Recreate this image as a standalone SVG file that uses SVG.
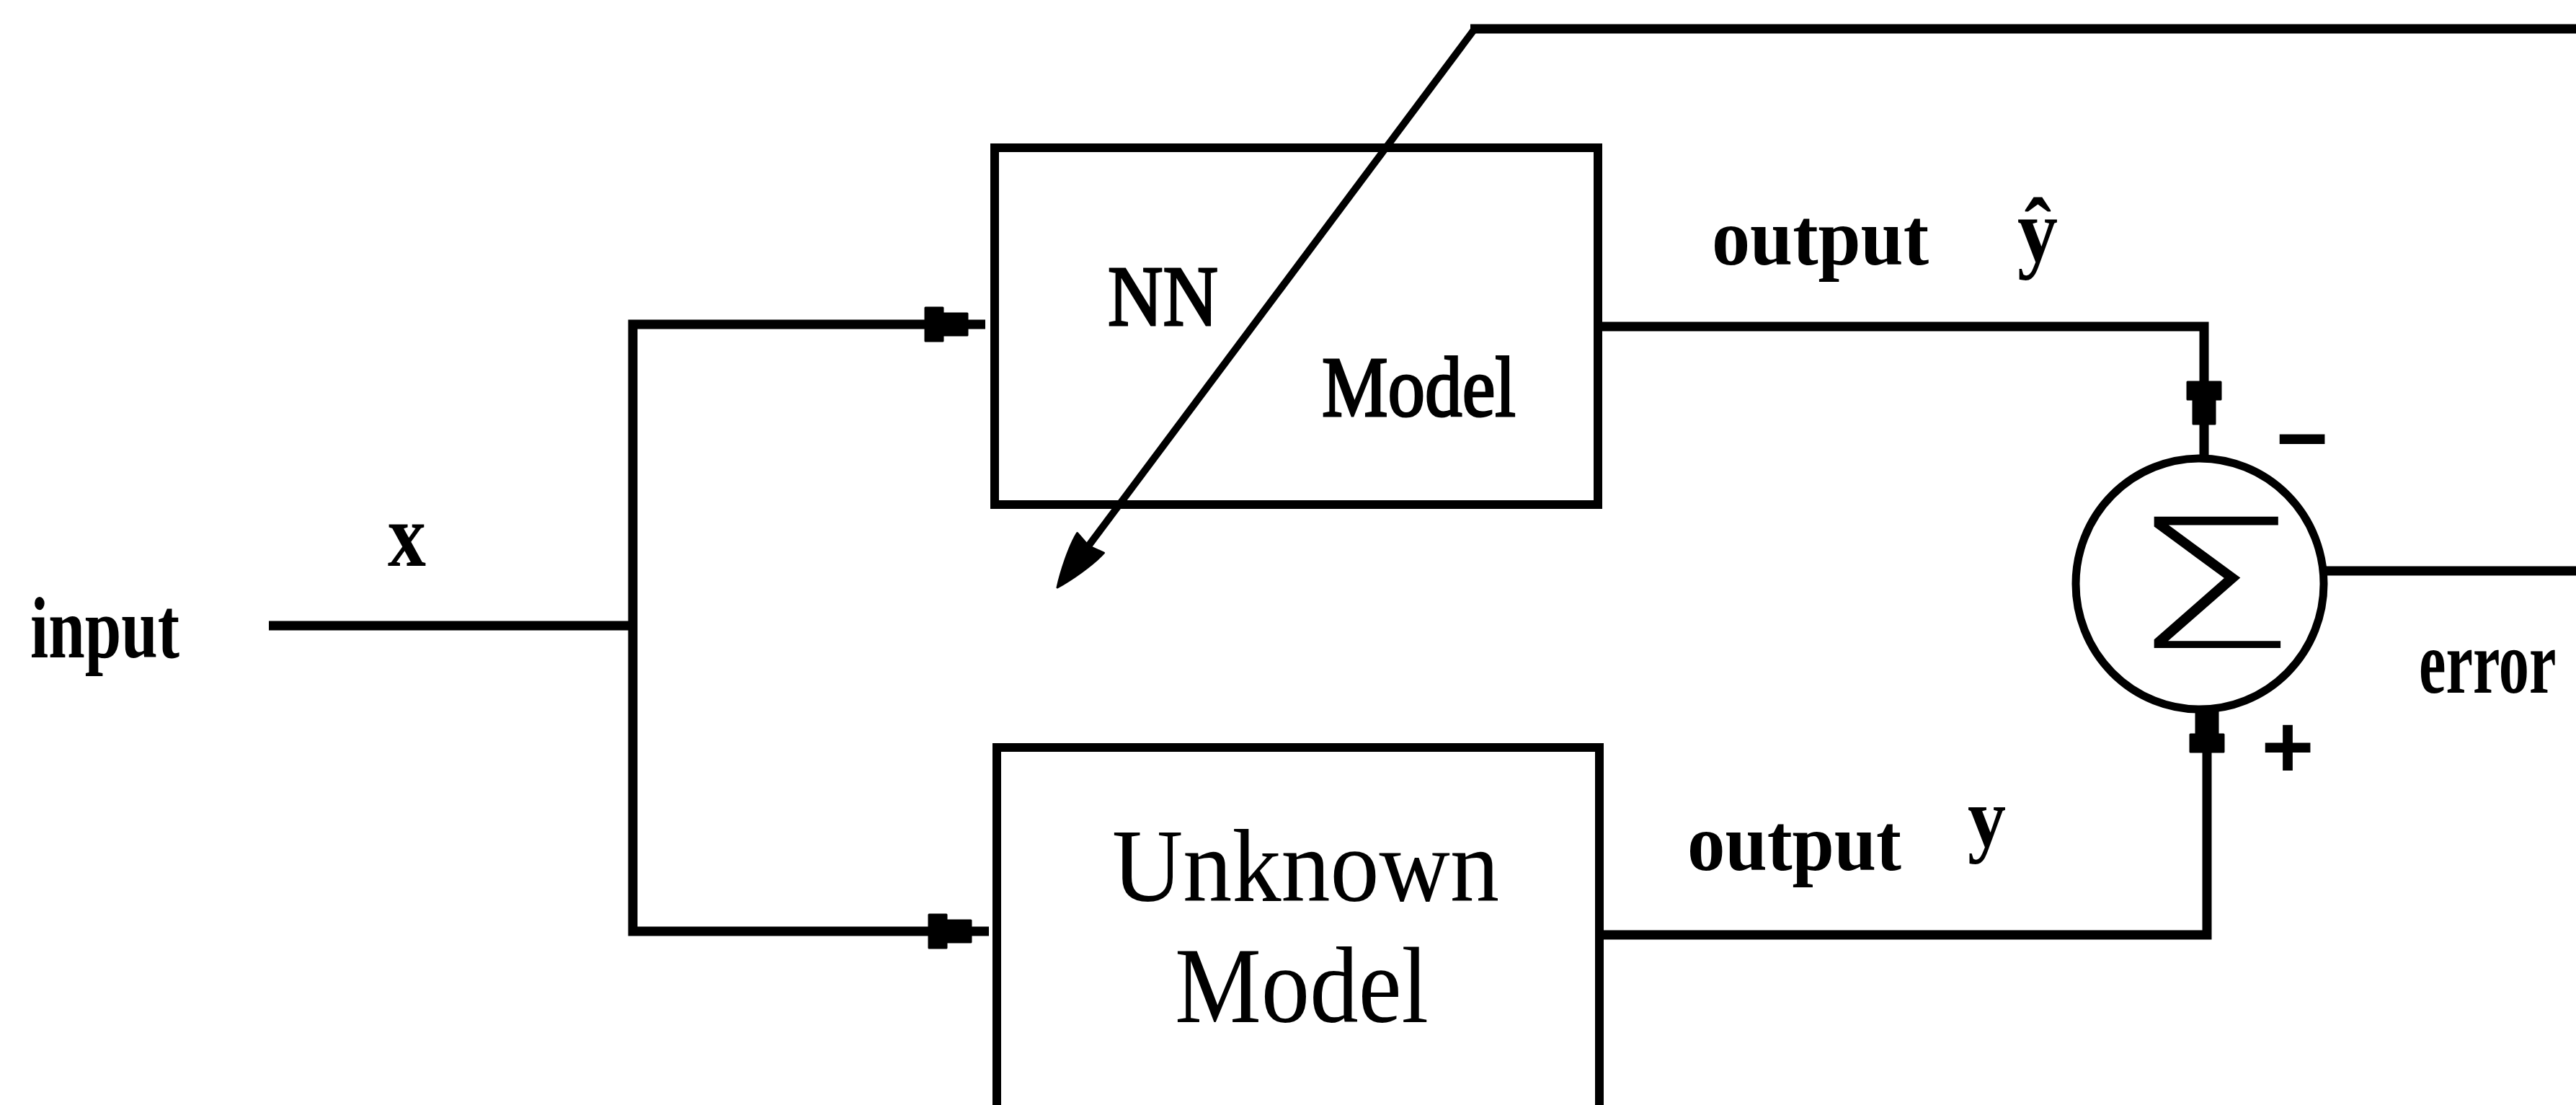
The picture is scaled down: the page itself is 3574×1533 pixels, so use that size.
<svg xmlns="http://www.w3.org/2000/svg" xmlns:xlink="http://www.w3.org/1999/xlink" width="3574" height="1533" viewBox="0 0 3574 1533">
  <style>
    .wire { fill: none; stroke: #000; stroke-width: 13; stroke-linejoin: miter; stroke-linecap: butt; }
    .box { fill: none; stroke: #000; stroke-width: 12; }
    .lbl { font-family: "Liberation Serif", "Times New Roman", serif; font-weight: bold; fill: #000; }
    .name { font-family: "Liberation Serif", "Times New Roman", serif; font-weight: normal; fill: #000; }
    .heavy { stroke: #000; stroke-width: 3; }
    .sign { font-family: "Liberation Sans", Arial, sans-serif; font-weight: bold; fill: #000; text-anchor: middle; }
    .head { fill: #000; stroke: #000; stroke-width: 3; stroke-linejoin: round; }
  </style>
  <defs>
    <!-- blocky arrowhead, ends at origin, points along +x -->
    <path id="head" d="M-58,-23 L-34,-23 L-34,-15 L0,-15 L0,15 L-34,15 L-34,23 L-58,23 Z"/>
    <!-- tapered arrowhead for the adjustment arrow -->
    <path id="dart" d="M0,0 C-20,-9 -55,-21 -77,-23 L-72,0 L-77,23 C-55,21 -20,9 0,0 Z"/>
  </defs>
  <rect width="3574" height="1533" fill="#fff"/>

  <g id="connectors">
    <!-- input to the branch point -->
    <path class="wire" d="M373,868 L878,868"/>
    <!-- branch to both models -->
    <path class="wire" d="M1367,450 L878,450 L878,1292 L1372,1292"/>
    <use xlink:href="#head" class="head" transform="translate(1342,450)"/>
    <use xlink:href="#head" class="head" transform="translate(1347,1292)"/>
    <!-- NN model output into the summing junction -->
    <path class="wire" d="M2217,453 L3058,453 L3058,632"/>
    <use xlink:href="#head" class="head" transform="translate(3058,588) rotate(90)"/>
    <!-- plant output into the summing junction -->
    <path class="wire" d="M2219,1297 L3062,1297 L3062,984"/>
    <use xlink:href="#head" class="head" transform="translate(3062,985) rotate(-90)"/>
    <!-- error signal out -->
    <path class="wire" d="M3224,792 L3580,792"/>
    <!-- error fed back to adjust the NN model -->
    <path class="wire" d="M2040,40 L3580,40"/>
    <path class="wire" style="stroke-width:10" d="M2046,40 L1500,771"/>
    <use xlink:href="#dart" class="head" transform="translate(1467,815) rotate(126.7)"/>
  </g>

  <g id="input-label">
    <text class="lbl" x="42" y="912" font-size="120" textLength="207" lengthAdjust="spacingAndGlyphs">input</text>
    <text class="lbl" x="538" y="785" font-size="125" textLength="53" lengthAdjust="spacingAndGlyphs">x</text>
  </g>

  <g id="nn-model">
    <rect class="box" x="1380" y="205" width="837" height="495"/>
    <text class="name heavy" x="1537" y="451" font-size="119" textLength="153" lengthAdjust="spacingAndGlyphs">NN</text>
    <text class="name heavy" x="1834" y="577" font-size="119" textLength="269" lengthAdjust="spacingAndGlyphs">Model</text>
  </g>

  <g id="unknown-model">
    <rect class="box" x="1383" y="1037" width="836" height="600"/>
    <text class="name" x="1543" y="1250" font-size="145" textLength="537" lengthAdjust="spacingAndGlyphs">Unknown</text>
    <text class="name" x="1630" y="1418" font-size="150" textLength="352" lengthAdjust="spacingAndGlyphs">Model</text>
  </g>

  <g id="nn-output-label">
    <text class="lbl" x="2375" y="367" font-size="112" textLength="301" lengthAdjust="spacingAndGlyphs">output</text>
    <text class="lbl" x="2799" y="362" font-size="124" textLength="56" lengthAdjust="spacingAndGlyphs">ŷ</text>
  </g>

  <g id="plant-output-label">
    <text class="lbl" x="2341" y="1207" font-size="112" textLength="297" lengthAdjust="spacingAndGlyphs">output</text>
    <text class="lbl" x="2730" y="1174" font-size="116" textLength="53" lengthAdjust="spacingAndGlyphs">y</text>
  </g>

  <g id="summing-junction">
    <ellipse cx="3052" cy="810" rx="172" ry="174" fill="none" stroke="#000" stroke-width="11"/>
    <text x="3070" y="899" font-family="'DejaVu Sans', sans-serif" font-weight="200" font-size="250" text-anchor="middle" textLength="236" lengthAdjust="spacingAndGlyphs">Σ</text>
    <text class="sign" x="3194" y="651" font-size="125">−</text>
    <text class="sign" x="3174" y="1079" font-size="125">+</text>
  </g>

  <g id="error-label">
    <!-- narrow label: horizontally condensed -->
    <text class="lbl" transform="translate(3356,961) scale(0.675,1)" x="0" y="0" font-size="125">error</text>
  </g>
</svg>
